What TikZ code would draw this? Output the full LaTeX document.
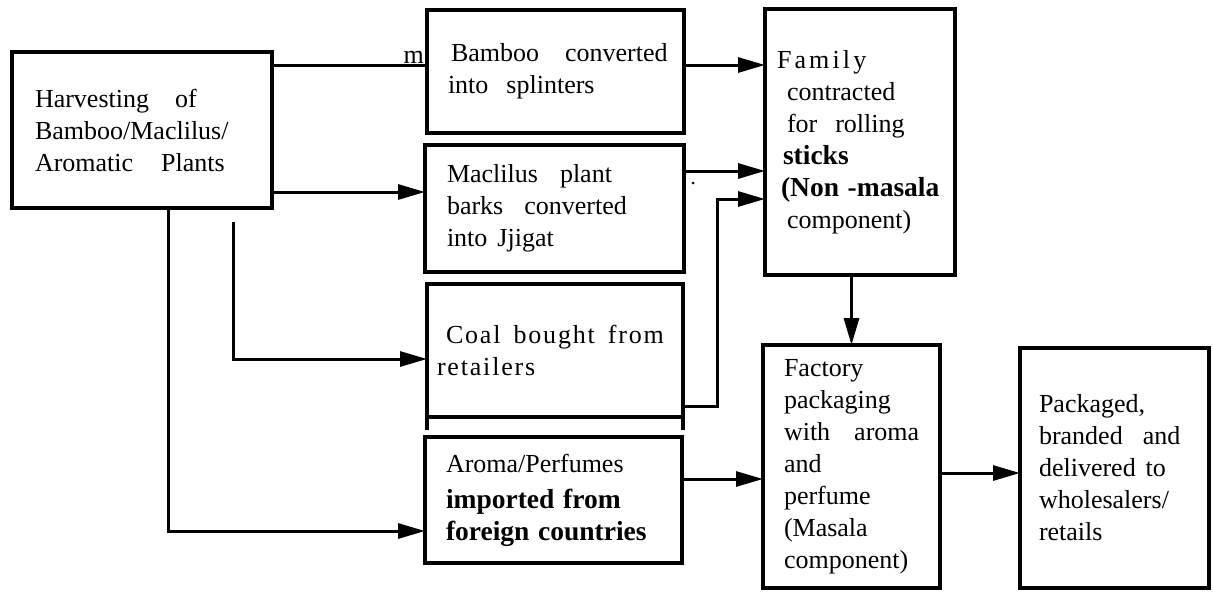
\documentclass[tikz,border=0pt]{standalone}
\usepackage{fontspec}
\setmainfont{Liberation Serif}
\usetikzlibrary{arrows.meta}
\newcommand{\bigbf}[1]{{\fontsize{27.5}{32}\selectfont\bfseries #1}}
\begin{document}
\begin{tikzpicture}[x=1pt,y=-1pt,
  box/.style={draw, line width=3.5pt, anchor=north west, inner ysep=0pt, outer sep=0pt,
    align=left, font=\fontsize{26}{32}\selectfont},
  conn/.style={line width=3pt},
  arr/.style={conn, -{Triangle[length=27pt,width=15pt]}},
  lbl/.style={inner sep=0pt, font=\fontsize{26}{32}\selectfont}]
\useasboundingbox (0,0) rectangle (1213,592);

\node[box, text width=214pt, inner xsep=23pt, minimum height=156pt] (harv) at (12,52)
  {Harvesting\hspace{26pt}of\\Bamboo/Maclilus/\\Aromatic\hspace{28pt}Plants};
\node[box, text width=215pt, inner xsep=21pt, minimum height=123pt] (bamboo) at (427,10)
  {\mbox{\hspace*{3pt}Bamboo\hspace{26pt}converted}\\into\hspace{18pt}splinters};
\node[box, text width=215pt, inner xsep=22pt, minimum height=127pt] (mac) at (425,145)
  {Maclilus\hspace{22pt}plant\\barks\hspace{21pt}converted\\into\hspace{10pt}Jjigat};
\node[box, text width=236pt, inner xsep=10pt, minimum height=133pt] (coal) at (427,284)
  {\addfontfeature{LetterSpace=7}\mbox{\hspace*{9pt}Coal\hspace{13pt}bought\hspace{13pt}from}\\retailers};
\node[box, text width=215pt, inner xsep=21pt, minimum height=126pt] (aroma) at (425,437)
  {Aroma/Perfumes\\[4pt]\bigbf{imported from}\\\bigbf{foreign countries}};
\node[box, text width=166pt, inner xsep=12pt, minimum height=266pt] (family) at (765,9)
  {{\addfontfeature{LetterSpace=12}Family}\\\hspace*{10pt}contracted\\\hspace*{10pt}for\hspace{18pt}rolling\\
   \hspace*{6pt}\bigbf{sticks}\\\mbox{\hspace*{4pt}\bigbf{(Non -masala}}\\\hspace*{10pt}component)};
\node[box, text width=135pt, inner xsep=21pt, minimum height=243pt] (factory) at (763,345)
  {Factory\\packaging\\\mbox{with\hspace{24pt}aroma}\\and\\perfume\\(Masala\\component)};
\node[box, text width=151pt, inner xsep=19pt, minimum height=240pt] (packaged) at (1020,348)
  {Packaged,\\branded\hspace{20pt}and\\delivered\hspace{10pt}to\\wholesalers/\\retails};

% extensions of coal box sides
\draw[line width=3.5pt] (coal.south west) -- ++(0,13);
\draw[line width=3.5pt] (coal.south east) -- ++(0,13);

% connectors
\draw[conn] ([yshift=-13pt]harv.north east) coordinate (h1) -- (h1 -| bamboo.west);
\node[lbl, anchor=base east] (m) at (424,63) {m};
\draw[arr] ([yshift=16pt]harv.south east) coordinate (h2) -- (h2 -| mac.west);
\coordinate (h3) at (233,222);
\draw[arr] (h3) |- ([yshift=-75pt]coal.north west);
\draw[arr] ([xshift=156pt]harv.south west) |- ([yshift=-94pt]aroma.north west);

\draw[arr] ([yshift=-55pt]bamboo.north east) coordinate (b1) -- (b1 -| family.west);
\draw[arr] ([yshift=-26pt]mac.north east) coordinate (c1) -- (c1 -| family.west);
\fill (693,183) circle (1.5pt);
\coordinate (f3) at ([yshift=-190pt]family.north west);
\draw[arr] ([yshift=11pt]coal.south east) -- ++(34,0) |- (f3);

\draw[arr] (family.south -| factory.north) -- (factory.north);
\draw[arr] ([yshift=-42pt]aroma.north east) coordinate (a1) -- (a1 -| factory.west);
\draw[arr] ([xshift=2pt,yshift=-128pt]factory.north east) coordinate (p1) -- (p1 -| packaged.west);
\end{tikzpicture}
\end{document}
